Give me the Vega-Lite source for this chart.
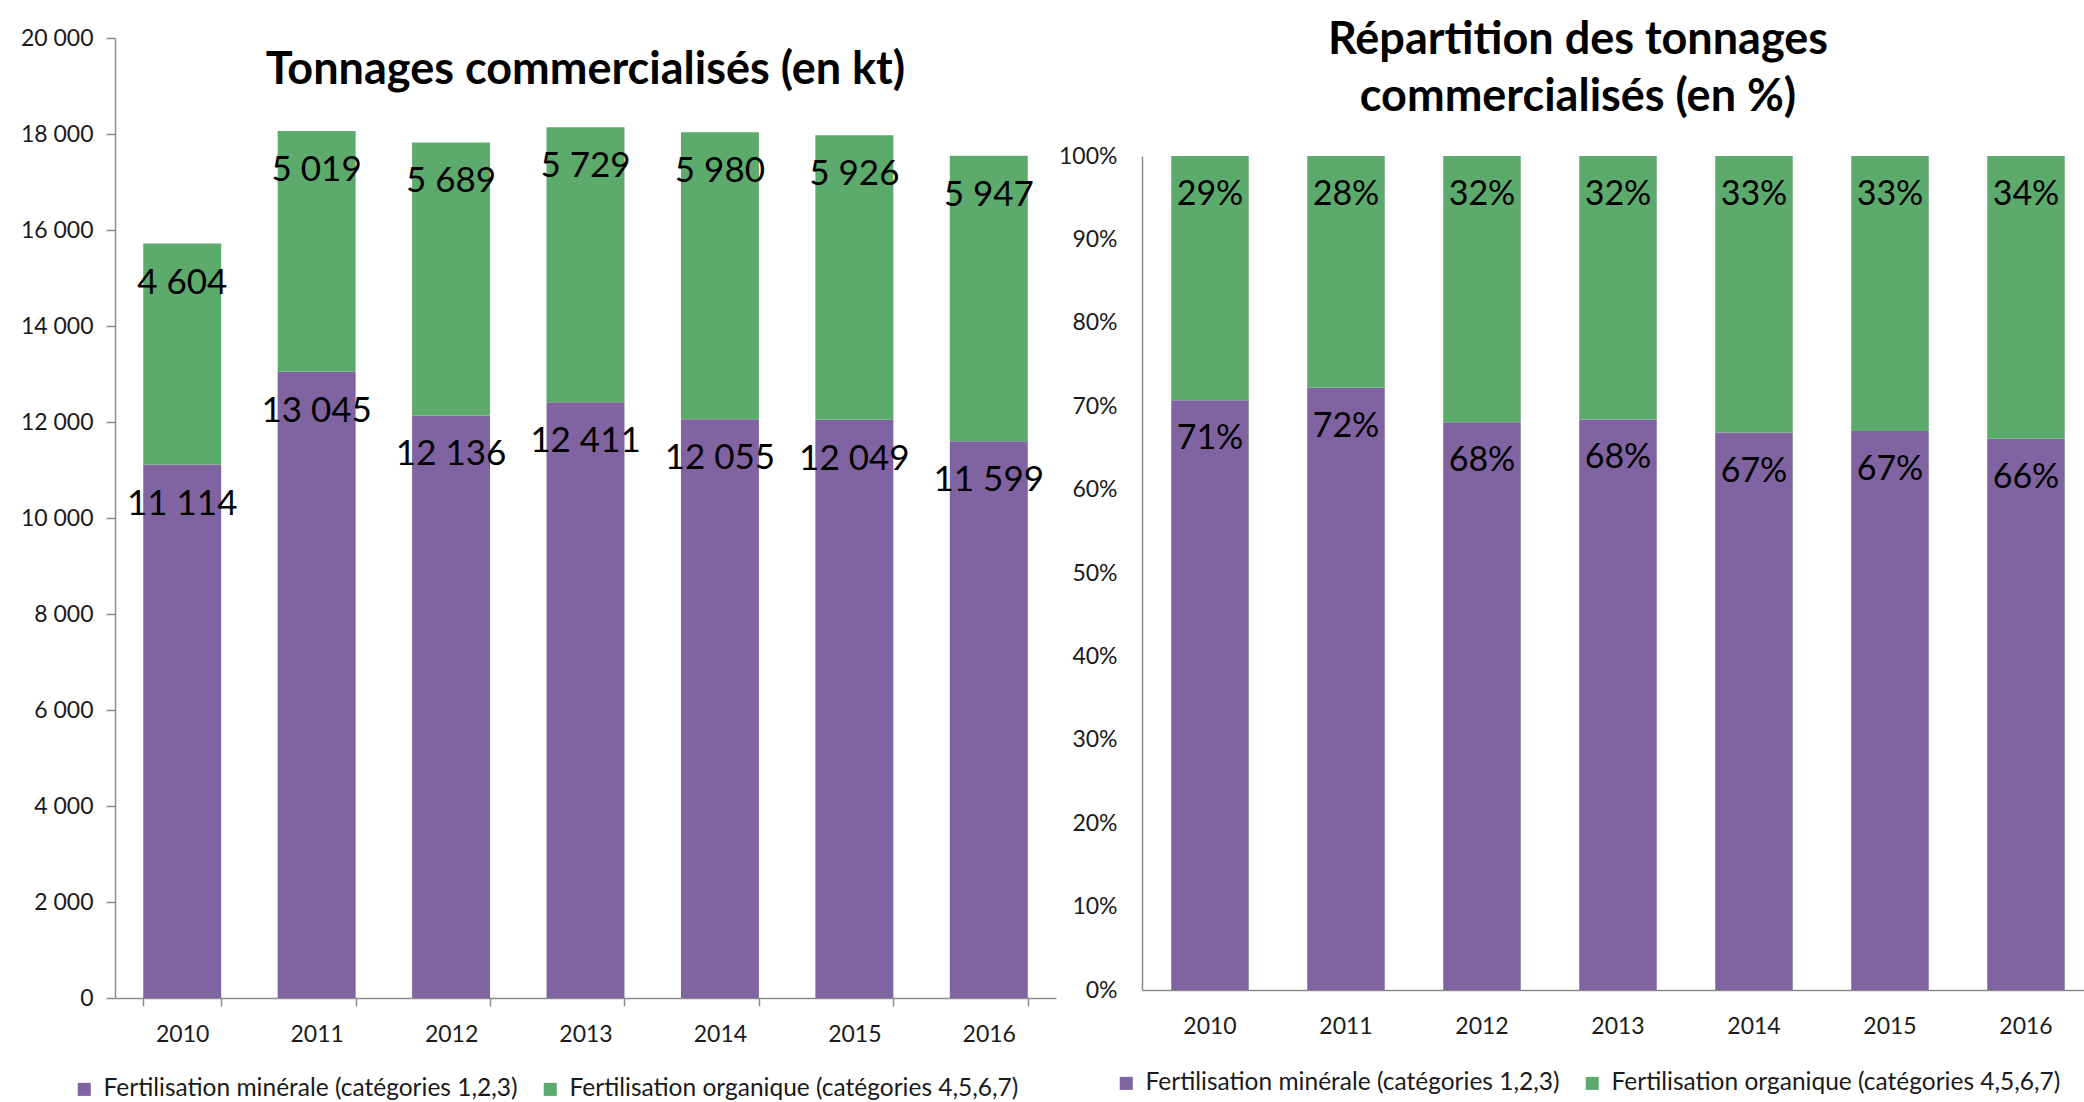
{
  "$schema": "https://vega.github.io/schema/vega-lite/v6.json",
  "padding": {"left": 20, "top": 18, "right": 0, "bottom": 0},
  "spacing": 2,
  "background": "white",
  "config": {
    "font": "Lato",
    "view": {"stroke": null},
    "locale": {"number": {"decimal": ",", "thousands": " ", "grouping": [3], "currency": ["", " €"]}},
    "axis": {"labelFont": "Lato", "labelFontSize": 23, "labelColor": "#1a1a1a", "domainColor": "#8c8c8c", "tickColor": "#8c8c8c", "domainWidth": 1.5, "tickWidth": 1.5, "grid": false},
    "legend": {"labelFont": "Lato", "labelFontSize": 24.5, "labelColor": "#1a1a1a", "labelLimit": 0, "symbolType": "square", "symbolSize": 170, "symbolStrokeWidth": 0, "labelOffset": 7, "columnPadding": 20, "direction": "horizontal"}
  },
  "datasets": {
    "t": [
      {"year": "2010", "cat": "Fertilisation minérale (catégories 1,2,3)", "value": 11114, "pct": 0.71},
      {"year": "2010", "cat": "Fertilisation organique (catégories 4,5,6,7)", "value": 4604, "pct": 0.29},
      {"year": "2011", "cat": "Fertilisation minérale (catégories 1,2,3)", "value": 13045, "pct": 0.72},
      {"year": "2011", "cat": "Fertilisation organique (catégories 4,5,6,7)", "value": 5019, "pct": 0.28},
      {"year": "2012", "cat": "Fertilisation minérale (catégories 1,2,3)", "value": 12136, "pct": 0.68},
      {"year": "2012", "cat": "Fertilisation organique (catégories 4,5,6,7)", "value": 5689, "pct": 0.32},
      {"year": "2013", "cat": "Fertilisation minérale (catégories 1,2,3)", "value": 12411, "pct": 0.68},
      {"year": "2013", "cat": "Fertilisation organique (catégories 4,5,6,7)", "value": 5729, "pct": 0.32},
      {"year": "2014", "cat": "Fertilisation minérale (catégories 1,2,3)", "value": 12055, "pct": 0.67},
      {"year": "2014", "cat": "Fertilisation organique (catégories 4,5,6,7)", "value": 5980, "pct": 0.33},
      {"year": "2015", "cat": "Fertilisation minérale (catégories 1,2,3)", "value": 12049, "pct": 0.67},
      {"year": "2015", "cat": "Fertilisation organique (catégories 4,5,6,7)", "value": 5926, "pct": 0.33},
      {"year": "2016", "cat": "Fertilisation minérale (catégories 1,2,3)", "value": 11599, "pct": 0.66},
      {"year": "2016", "cat": "Fertilisation organique (catégories 4,5,6,7)", "value": 5947, "pct": 0.34}
    ]
  },
  "resolve": {"scale": {"color": "independent"}, "legend": {"color": "independent"}},
  "hconcat": [
    {
      "width": 941,
      "height": 960,
      "title": {"text": "Tonnages commercialisés (en kt)", "font": "Lato", "fontSize": 45, "fontWeight": "bold", "color": "#000000", "anchor": "middle", "frame": "group", "offset": -66},
      "data": {"name": "t"},
      "transform": [{"stack": "value", "groupby": ["year"], "sort": [{"field": "cat", "order": "ascending"}], "as": ["v0", "v1"]}],
      "layer": [
        {
          "mark": {"type": "bar"},
          "encoding": {
            "x": {"field": "year", "type": "nominal", "scale": {"paddingInner": 0.42, "paddingOuter": 0.21}, "axis": {"title": null, "labelAngle": 0, "tickBand": "extent", "tickSize": 8, "labelPadding": 17}},
            "y": {"field": "v1", "type": "quantitative", "scale": {"domain": [0, 20000]}, "axis": {"title": null, "values": [0, 2000, 4000, 6000, 8000, 10000, 12000, 14000, 16000, 18000, 20000], "format": ",d", "tickSize": 9, "labelPadding": 13}},
            "y2": {"field": "v0"},
            "color": {"field": "cat", "type": "nominal", "scale": {"domain": ["Fertilisation minérale (catégories 1,2,3)", "Fertilisation organique (catégories 4,5,6,7)"], "range": ["#8064A2", "#5DAA6D"]}, "legend": {"title": null, "orient": "none", "legendX": -43, "legendY": 1039}}
          }
        },
        {
          "mark": {"type": "text", "baseline": "middle", "align": "center", "dy": 39, "fontSize": 35, "color": "#000000"},
          "encoding": {
            "x": {"field": "year", "type": "nominal"},
            "y": {"field": "v1", "type": "quantitative"},
            "text": {"field": "value", "type": "quantitative", "format": ",d"}
          }
        }
      ]
    },
    {
      "width": 952,
      "height": 952,
      "title": {"text": ["Répartition des tonnages", "commercialisés (en %)"], "font": "Lato", "fontSize": 45, "fontWeight": "bold", "color": "#000000", "anchor": "middle", "frame": "group", "offset": -82, "lineHeight": 57, "dx": -40},
      "data": {"name": "t"},
      "transform": [{"stack": "value", "groupby": ["year"], "sort": [{"field": "cat", "order": "ascending"}], "offset": "normalize", "as": ["v0", "v1"]}],
      "layer": [
        {
          "mark": {"type": "bar"},
          "encoding": {
            "x": {"field": "year", "type": "nominal", "scale": {"paddingInner": 0.43, "paddingOuter": 0.215}, "axis": {"title": null, "labelAngle": 0, "ticks": false, "tickSize": 0, "labelPadding": 25}},
            "y": {"field": "v1", "type": "quantitative", "scale": {"domain": [0, 1], "range": [952, 118]}, "axis": {"title": null, "values": [0, 0.1, 0.2, 0.3, 0.4, 0.5, 0.6, 0.7, 0.8, 0.9, 1], "format": ".0%", "ticks": false, "tickSize": 0, "labelPadding": 25}},
            "y2": {"field": "v0"},
            "color": {"field": "cat", "type": "nominal", "scale": {"domain": ["Fertilisation minérale (catégories 1,2,3)", "Fertilisation organique (catégories 4,5,6,7)"], "range": ["#8064A2", "#5DAA6D"]}, "legend": {"title": null, "orient": "none", "legendX": -28, "legendY": 1033}}
          }
        },
        {
          "mark": {"type": "text", "baseline": "middle", "align": "center", "dy": 39, "fontSize": 34, "color": "#000000"},
          "encoding": {
            "x": {"field": "year", "type": "nominal"},
            "y": {"field": "v1", "type": "quantitative"},
            "text": {"field": "pct", "type": "quantitative", "format": ".0%"}
          }
        }
      ]
    }
  ]
}
